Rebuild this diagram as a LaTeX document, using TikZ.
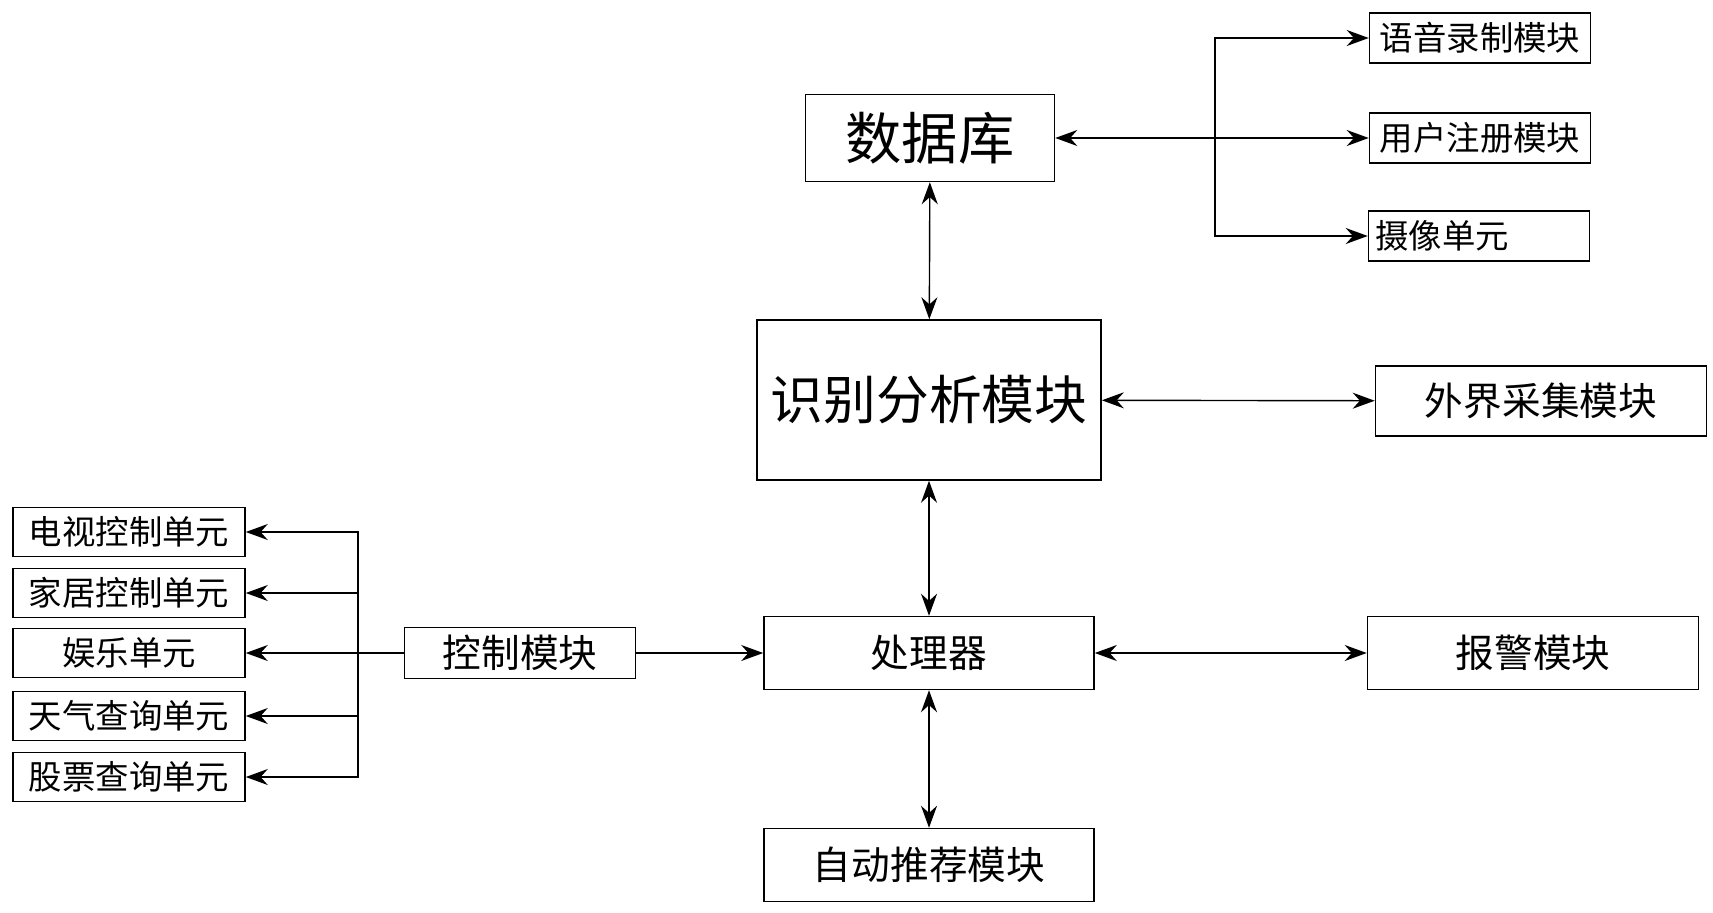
\documentclass[tikz,border=0pt]{standalone}
\usepackage{fontspec}
\setmainfont{Noto Sans CJK SC}
\usetikzlibrary{arrows.meta}
\begin{document}
\begin{tikzpicture}[
        x=0.01cm, y=-0.01cm,
        thin,
        >={Stealth[length=2.2mm,width=1.6mm]}
    ]
    \tikzset{
        box/.style = {rectangle, draw=black, align=center, inner sep=0pt},
        small/.style = {box, minimum width=2.21cm, minimum height=0.5cm, font=\fontsize{9.5}{10}\selectfont},
        unit/.style = {box, minimum width=2.32cm, minimum height=0.49cm, font=\fontsize{9.5}{10}\selectfont},
        mid/.style = {box, minimum width=3.3cm, minimum height=0.73cm, font=\fontsize{11}{12}\selectfont},
    }
    \useasboundingbox (0,0) rectangle (1713,912);
    \node[box,minimum width=2.49cm,minimum height=0.87cm,font=\fontsize{16}{18}\selectfont] at (930,138) (db) {数据库};
    \node[small] at (1480,38) (rec) {语音录制模块};
    \node[small] at (1480,138) (reg) {用户注册模块};
    \node[small] at (1479,236) (cam) {摄像单元\hspace{2.2em}};
    \node[box,minimum width=3.44cm,minimum height=1.6cm,font=\fontsize{15}{17}\selectfont] at (929,400) (ana) {识别分析模块};
    \node[mid,minimum width=3.31cm,minimum height=0.7cm] at (1541,401) (ext) {外界采集模块};
    \node[mid] at (929,653) (cpu) {处理器};
    \node[mid,minimum width=3.31cm] at (1533,653) (alarm) {报警模块};
    \node[mid] at (929,865) (rcm) {自动推荐模块};
    \node[mid,minimum width=2.31cm,minimum height=0.51cm] at (520,653) (ctl) {控制模块};
    \node[unit] at (129,532) (tv) {电视控制单元};
    \node[unit] at (129,593) (home) {家居控制单元};
    \node[unit] at (129,653) (fun) {娱乐单元};
    \node[unit] at (129,716) (wea) {天气查询单元};
    \node[unit] at (129,777) (stk) {股票查询单元};
    \coordinate (rb) at (1215,138);
    \coordinate (lb) at (358,653);
    % database side
    \draw[<->] (db) -- (reg);
    \draw[->] (rb) |- (rec);
    \draw[->] (rb) |- (cam);
    \draw[<->] (db) -- (ana);
    \draw[<->] (ana) -- (ext);
    \draw[<->] (ana) -- (cpu);
    \draw[<->] (cpu) -- (alarm);
    \draw[<->] (cpu) -- (rcm);
    \draw[->] (ctl) -- (cpu);
    % control units
    \draw[->] (ctl) -- (fun);
    \foreach \u in {tv,home,wea,stk}
        \draw[->] (lb) |- (\u);
\end{tikzpicture}
\end{document}
